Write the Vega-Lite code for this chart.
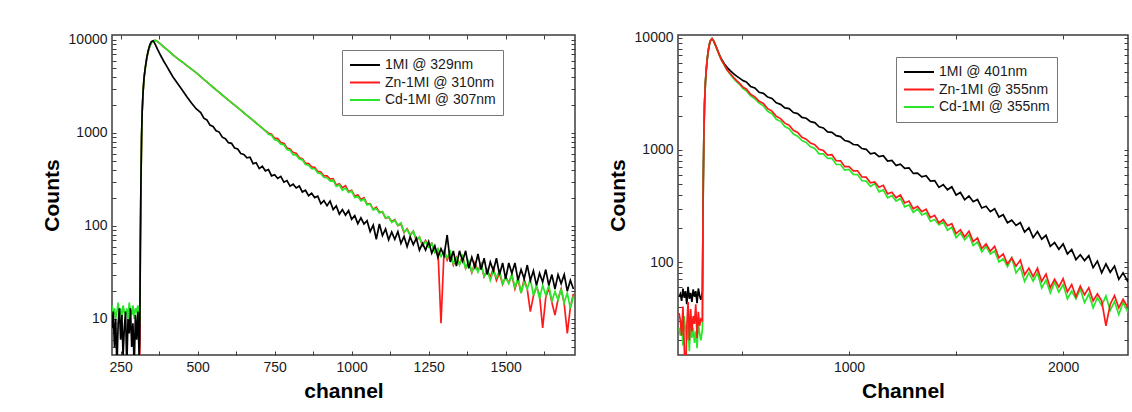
{
  "$schema": "https://vega.github.io/schema/vega-lite/v6.json",
  "padding": {"left": 40, "top": 30, "right": 0, "bottom": 0},
  "background": "white",
  "spacing": 29,
  "resolve": {"scale": {"color": "independent"}, "legend": {"color": "independent"}},
  "config": {
    "font": "Liberation Sans",
    "view": {"stroke": "#3c3c3c", "strokeWidth": 1.5},
    "axis": {"domain": false, "grid": false, "labelFontSize": 14, "labelColor": "#1a1a1a", "titleFontSize": 21, "titleFontWeight": "bold", "titleColor": "#000000", "tickColor": "#3c3c3c", "tickSize": -4, "tickWidth": 1, "labelPadding": 9, "labelOverlap": false, "labelFlush": false, "titlePadding": 6},
    "legend": {"labelFont": "Liberation Sans", "labelFontSize": 14, "labelColor": "#1a1a1a"}
  },
  "hconcat": [
    {
      "width": 463,
      "height": 320,
      "data": {"values": [
        {"x":222,"a":8,"b":1,"c":14},{"x":226,"a":12,"b":1,"c":11},{"x":230,"a":5,"b":1,"c":13},{"x":234,"a":10,"b":1,"c":10},{"x":238,"a":3,"b":1,"c":12},{"x":242,"a":9,"b":1,"c":15},{"x":246,"a":13,"b":1,"c":11},{"x":250,"a":6,"b":1,"c":13},{"x":254,"a":11,"b":1,"c":10},{"x":258,"a":4,"b":1,"c":14},{"x":262,"a":8,"b":1,"c":12},{"x":266,"a":12,"b":1,"c":11},{"x":270,"a":3,"b":1,"c":13},{"x":274,"a":10,"b":1,"c":10},{"x":278,"a":7,"b":1,"c":15},{"x":282,"a":13,"b":1,"c":12},{"x":286,"a":5,"b":1,"c":11},{"x":290,"a":9,"b":1,"c":14},{"x":294,"a":3,"b":1,"c":10},{"x":298,"a":11,"b":1,"c":13},{"x":302,"a":6,"b":1,"c":12},{"x":306,"a":12,"b":1,"c":14},{"x":310,"a":4,"b":1,"c":11},
        {"x":312,"a":6,"b":3,"c":9},{"x":314,"a":60,"b":60,"c":60},{"x":316,"a":300,"b":300,"c":300},{"x":318,"a":900,"b":900,"c":900},{"x":320,"a":1700,"b":1700,"c":1700},{"x":323,"a":2800,"b":2800,"c":2800},{"x":326,"a":3900,"b":3900,"c":3900},{"x":330,"a":5000,"b":5000,"c":5000},{"x":335,"a":6500,"b":6400,"c":6400},{"x":340,"a":7800,"b":7600,"c":7600},{"x":345,"a":8900,"b":8600,"c":8600},{"x":350,"a":9600,"b":9300,"c":9300},{"x":355,"a":9800,"b":9700,"c":9700},{"x":360,"a":9300,"b":9900,"c":9900},{"x":365,"a":8600,"b":9850,"c":9850},{"x":370,"a":7900,"b":9600,"c":9600},{"x":380,"a":6800,"b":9000,"c":9000},{"x":390,"a":5900,"b":8400,"c":8400},{"x":400,"a":5200,"b":7900,"c":7900},{"x":410,"a":4550,"b":7400,"c":7400},{"x":420,"a":4000,"b":6900,"c":6900},{"x":435,"a":3400,"b":6300,"c":6300},{"x":450,"a":2900,"b":5800,"c":5800},{"x":465,"a":2450,"b":5300,"c":5300},{"x":480,"a":2100,"b":4850,"c":4850},{"x":495,"a":1820,"b":4450,"c":4450},
        {"x":510,"a":1657,"b":4028,"c":4028},{"x":520,"a":1444,"b":3773,"c":3773},{"x":530,"a":1381,"b":3534,"c":3534},{"x":540,"a":1213,"b":3310,"c":3310},{"x":550,"a":1174,"b":3100,"c":3100},{"x":560,"a":1057,"b":2908,"c":2908},{"x":570,"a":1022,"b":2727,"c":2727},{"x":580,"a":900,"b":2558,"c":2558},{"x":590,"a":868,"b":2399,"c":2399},{"x":600,"a":786,"b":2250,"c":2250},
        {"x":610,"a":773,"b":2115,"c":2115},{"x":620,"a":688,"b":1988,"c":1988},{"x":630,"a":672,"b":1868,"c":1868},{"x":640,"a":600,"b":1756,"c":1756},{"x":650,"a":587,"b":1650,"c":1650},{"x":660,"a":541,"b":1548,"c":1548},{"x":670,"a":550,"b":1453,"c":1453},{"x":680,"a":467,"b":1363,"c":1363},{"x":690,"a":479,"b":1279,"c":1279},{"x":700,"a":414,"b":1200,"c":1200},
        {"x":710,"a":438,"b":1125,"c":1125},{"x":720,"a":391,"b":1055,"c":1055},{"x":730,"a":404,"b":994,"c":968},{"x":740,"a":346,"b":970,"c":945},{"x":750,"a":356,"b":878,"c":844},{"x":760,"a":324,"b":869,"c":828},{"x":770,"a":341,"b":790,"c":757},{"x":780,"a":296,"b":773,"c":746},{"x":790,"a":308,"b":688,"c":664},{"x":800,"a":268,"b":672,"c":650},
        {"x":810,"a":281,"b":615,"c":584},{"x":820,"a":256,"b":606,"c":578},{"x":830,"a":269,"b":542,"c":526},{"x":840,"a":232,"b":529,"c":514},{"x":850,"a":242,"b":474,"c":457},{"x":860,"a":212,"b":469,"c":450},{"x":870,"a":225,"b":432,"c":414},{"x":880,"a":202,"b":428,"c":412},{"x":890,"a":209,"b":386,"c":372},{"x":900,"a":173,"b":380,"c":366},
        {"x":910,"a":187,"b":345,"c":332},{"x":920,"a":165,"b":346,"c":330},{"x":930,"a":185,"b":319,"c":305},{"x":940,"a":150,"b":322,"c":312},{"x":950,"a":164,"b":275,"c":267},{"x":960,"a":134,"b":284,"c":276},{"x":970,"a":150,"b":258,"c":242},{"x":980,"a":131,"b":271,"c":256},{"x":990,"a":146,"b":234,"c":229},{"x":1000,"a":118,"b":242,"c":237},
        {"x":1010,"a":129,"b":209,"c":202},{"x":1020,"a":106,"b":216,"c":207},{"x":1030,"a":122,"b":193,"c":186},{"x":1040,"a":105,"b":201,"c":195},{"x":1050,"a":114,"b":172,"c":168},{"x":1060,"a":87,"b":174,"c":172},{"x":1070,"a":102,"b":151,"c":149},{"x":1080,"a":72,"b":159,"c":154},{"x":1090,"a":105,"b":141,"c":138},{"x":1100,"a":79,"b":142,"c":143},
        {"x":1110,"a":93,"b":121,"c":122},{"x":1120,"a":71,"b":124,"c":126},{"x":1130,"a":86,"b":112,"c":109},{"x":1140,"a":72,"b":117,"c":115},{"x":1150,"a":87,"b":101,"c":102},{"x":1160,"a":65,"b":105,"c":108},{"x":1170,"a":77,"b":85,"c":86},{"x":1180,"a":60,"b":93,"c":92},{"x":1190,"a":76,"b":80,"c":79},{"x":1200,"a":63,"b":88,"c":88},
        {"x":1210,"a":74,"b":70,"c":71},{"x":1220,"a":55,"b":76,"c":76},{"x":1230,"a":65,"b":62,"c":62},{"x":1240,"a":55,"b":70,"c":68},{"x":1250,"a":68,"b":60,"c":59},{"x":1260,"a":51,"b":65,"c":65},{"x":1270,"a":61,"b":52,"c":52},{"x":1280,"a":46,"b":56,"c":57},{"x":1290,"a":57,"b":9,"c":47},{"x":1300,"a":48,"b":55,"c":54},
        {"x":1310,"a":80,"b":43,"c":45},{"x":1320,"a":41,"b":51,"c":53},{"x":1330,"a":54,"b":38,"c":39},{"x":1340,"a":37,"b":46,"c":45},{"x":1350,"a":54,"b":39,"c":38},{"x":1360,"a":42,"b":47,"c":47},{"x":1370,"a":54,"b":35,"c":35},{"x":1380,"a":35,"b":41,"c":42},{"x":1390,"a":46,"b":31.5,"c":32},{"x":1400,"a":36,"b":40,"c":38},
        {"x":1410,"a":50,"b":33,"c":32},{"x":1420,"a":34,"b":39,"c":39},{"x":1430,"a":45,"b":28.5,"c":29},{"x":1440,"a":30,"b":33.5,"c":34},{"x":1450,"a":41,"b":28,"c":26},{"x":1460,"a":33,"b":35,"c":33},{"x":1470,"a":45,"b":26,"c":28},{"x":1480,"a":30,"b":31,"c":33},{"x":1490,"a":40,"b":23.6,"c":24},{"x":1500,"a":27,"b":28.6,"c":28},
        {"x":1510,"a":40,"b":24.4,"c":24},{"x":1520,"a":31,"b":29.7,"c":30},{"x":1530,"a":40,"b":21,"c":22},{"x":1540,"a":26,"b":27,"c":28},{"x":1550,"a":34,"b":19,"c":19},{"x":1560,"a":27,"b":26.7,"c":25},{"x":1570,"a":38,"b":21,"c":21},{"x":1580,"a":26,"b":12,"c":27},{"x":1590,"a":33,"b":17.7,"c":18},{"x":1600,"a":23,"b":22.3,"c":23},
        {"x":1610,"a":31,"b":18,"c":16.5},{"x":1620,"a":25,"b":8,"c":23},{"x":1630,"a":34,"b":17,"c":18},{"x":1640,"a":23,"b":21.7,"c":23},{"x":1650,"a":30,"b":15,"c":15.6},{"x":1660,"a":21,"b":11,"c":19.7},{"x":1670,"a":30,"b":16.4,"c":16},{"x":1680,"a":24,"b":21,"c":21},{"x":1690,"a":30,"b":14.6,"c":15},{"x":1700,"a":20,"b":7,"c":19},
        {"x":1710,"a":26,"b":13.4,"c":13},{"x":1720,"a":21,"b":18.7,"c":17.7}
      ]},
      "transform": [{"fold": ["b", "c", "a"], "as": ["s", "v"]}],
      "layer": [
        {
          "mark": {"type": "line", "clip": true, "strokeWidth": 1.7},
          "encoding": {
            "x": {"field": "x", "type": "quantitative", "scale": {"domain": [222, 1725], "nice": false, "zero": false},
                  "axis": {"orient": "bottom", "title": "channel", "format": "d", "values": [250,375,500,625,750,875,1000,1125,1250,1375,1500,1625], "labelExpr": "datum.value % 250 == 0 ? datum.label : ''"}},
            "y": {"field": "v", "type": "quantitative", "scale": {"type": "log", "domain": [4.1, 11300], "nice": false},
                  "axis": {"orient": "left", "title": "Counts", "format": "d", "values": [5,6,7,8,9,10,20,30,40,50,60,70,80,90,100,200,300,400,500,600,700,800,900,1000,2000,3000,4000,5000,6000,7000,8000,9000,10000], "labelExpr": "indexof([10,100,1000,10000], datum.value) >= 0 ? datum.label : ''"}},
            "color": {"field": "s", "type": "nominal", "scale": {"domain": ["a", "b", "c"], "range": ["#000000", "#ff1a1a", "#2ae62a"]},
                      "legend": {"orient": "none", "legendX": 230, "legendY": 15, "title": null, "symbolType": "stroke", "symbolSize": 900, "symbolStrokeWidth": 2, "labelOffset": 4, "strokeColor": "#777777", "fillColor": "#ffffff", "padding": 7, "clipHeight": 16, "rowPadding": 1.5,
                                 "labelExpr": "datum.label == 'a' ? '1MI @ 329nm' : datum.label == 'b' ? 'Zn-1MI @ 310nm' : 'Cd-1MI @ 307nm'"}}
          }
        },
        {
          "mark": {"type": "point", "opacity": 0},
          "encoding": {
            "x": {"field": "x", "type": "quantitative", "axis": {"orient": "top", "title": null, "labels": false, "values": [250,375,500,625,750,875,1000,1125,1250,1375,1500,1625]}},
            "y": {"field": "v", "type": "quantitative", "axis": {"orient": "right", "title": null, "labels": false, "values": [5,6,7,8,9,10,20,30,40,50,60,70,80,90,100,200,300,400,500,600,700,800,900,1000,2000,3000,4000,5000,6000,7000,8000,9000,10000]}}
          }
        }
      ],
      "resolve": {"axis": {"x": "independent", "y": "independent"}}
    },
    {
      "width": 450,
      "height": 320,
      "data": {"values": [
        {"x":206,"a":49,"b":35,"c":26},{"x":212,"a":52,"b":30,"c":22},{"x":218,"a":45,"b":22,"c":30},{"x":224,"a":58,"b":40,"c":18},{"x":230,"a":48,"b":18,"c":33},{"x":236,"a":55,"b":8,"c":25},{"x":242,"a":42,"b":26,"c":20},{"x":248,"a":60,"b":44,"c":28},{"x":254,"a":47,"b":20,"c":16},{"x":260,"a":53,"b":38,"c":30},{"x":266,"a":44,"b":24,"c":21},{"x":272,"a":57,"b":33,"c":26},{"x":278,"a":49,"b":28,"c":19},{"x":284,"a":55,"b":42,"c":24},{"x":290,"a":43,"b":21,"c":17},{"x":296,"a":58,"b":36,"c":29},{"x":302,"a":50,"b":27,"c":23},{"x":308,"a":46,"b":31,"c":20},
        {"x":315,"a":55,"b":30,"c":25},{"x":317,"a":150,"b":150,"c":150},{"x":319,"a":500,"b":500,"c":500},{"x":322,"a":1400,"b":1400,"c":1400},{"x":325,"a":2600,"b":2600,"c":2600},{"x":329,"a":4000,"b":4000,"c":4000},{"x":333,"a":5200,"b":5200,"c":5200},{"x":338,"a":6600,"b":6600,"c":6600},{"x":343,"a":7800,"b":7800,"c":7800},{"x":348,"a":8800,"b":8800,"c":8800},{"x":353,"a":9500,"b":9500,"c":9500},{"x":360,"a":9800,"b":9850,"c":9850},{"x":367,"a":9400,"b":9450,"c":9450},{"x":375,"a":8700,"b":8700,"c":8700},{"x":385,"a":7800,"b":7800,"c":7750},{"x":395,"a":7000,"b":6950,"c":6900},{"x":405,"a":6400,"b":6300,"c":6250},{"x":418,"a":5850,"b":5700,"c":5650},{"x":430,"a":5450,"b":5200,"c":5150},{"x":445,"a":5100,"b":4800,"c":4700},{"x":460,"a":4800,"b":4450,"c":4350},{"x":475,"a":4550,"b":4150,"c":4050},{"x":490,"a":4350,"b":3900,"c":3820},{"x":505,"a":4150,"b":3620,"c":3520},
        {"x":520,"a":4044,"b":3496,"c":3371},{"x":540,"a":3684,"b":3131,"c":3030},{"x":560,"a":3569,"b":2977,"c":2864},{"x":580,"a":3270,"b":2714,"c":2611},{"x":600,"a":3194,"b":2601,"c":2471},{"x":620,"a":2959,"b":2332,"c":2211},{"x":640,"a":2877,"b":2220,"c":2105},{"x":660,"a":2628,"b":1994,"c":1875},{"x":680,"a":2549,"b":1902,"c":1799},{"x":700,"a":2371,"b":1733,"c":1615},
        {"x":720,"a":2337,"b":1664,"c":1544},{"x":740,"a":2155,"b":1496,"c":1388},{"x":760,"a":2111,"b":1431,"c":1326},{"x":780,"a":1951,"b":1294,"c":1213},{"x":800,"a":1915,"b":1247,"c":1167},{"x":820,"a":1789,"b":1152,"c":1065},{"x":840,"a":1753,"b":1115,"c":1030},{"x":860,"a":1610,"b":1014,"c":922},{"x":880,"a":1572,"b":987,"c":921},{"x":900,"a":1450,"b":898,"c":839},
        {"x":920,"a":1434,"b":906,"c":842},{"x":940,"a":1341,"b":802,"c":743},{"x":960,"a":1315,"b":800,"c":741},{"x":980,"a":1213,"b":709,"c":660},{"x":1000,"a":1187,"b":711,"c":669},{"x":1020,"a":1118,"b":649,"c":606},{"x":1040,"a":1109,"b":651,"c":603},{"x":1060,"a":1028,"b":573,"c":531},{"x":1080,"a":1013,"b":571,"c":527},{"x":1100,"a":922,"b":509,"c":472},
        {"x":1120,"a":938,"b":518,"c":502},{"x":1140,"a":870,"b":465,"c":423},{"x":1160,"a":888,"b":483,"c":440},{"x":1180,"a":795,"b":405,"c":374},{"x":1200,"a":806,"b":419,"c":392},{"x":1220,"a":727,"b":374,"c":350},{"x":1240,"a":746,"b":397,"c":369},{"x":1260,"a":685,"b":336,"c":310},{"x":1280,"a":692,"b":350,"c":323},{"x":1300,"a":617,"b":298,"c":277},
        {"x":1320,"a":621,"b":314,"c":298},{"x":1340,"a":575,"b":281,"c":263},{"x":1360,"a":588,"b":296,"c":274},{"x":1380,"a":527,"b":249,"c":230},{"x":1400,"a":532,"b":261,"c":239},{"x":1420,"a":463,"b":223,"c":214},{"x":1440,"a":490,"b":239,"c":227},{"x":1460,"a":441,"b":211,"c":192},{"x":1480,"a":469,"b":220,"c":205},{"x":1500,"a":396,"b":179,"c":165},
        {"x":1520,"a":417,"b":194,"c":182},{"x":1540,"a":359,"b":168,"c":158},{"x":1560,"a":388,"b":188,"c":175},{"x":1580,"a":345,"b":152,"c":140},{"x":1600,"a":361,"b":164,"c":151},{"x":1620,"a":303,"b":132,"c":123},{"x":1640,"a":314,"b":145,"c":138},{"x":1660,"a":281,"b":125,"c":118},{"x":1680,"a":299,"b":138,"c":126},{"x":1700,"a":252,"b":109,"c":100},
        {"x":1720,"a":264,"b":118,"c":107},{"x":1740,"a":224,"b":96,"c":91},{"x":1760,"a":236,"b":109,"c":109},{"x":1780,"a":212,"b":92,"c":80},{"x":1800,"a":225,"b":104,"c":90},{"x":1820,"a":185,"b":77,"c":67},{"x":1840,"a":202,"b":88,"c":80},{"x":1860,"a":165,"b":74,"c":67.5},{"x":1880,"a":187,"b":88,"c":80},{"x":1900,"a":160,"b":67,"c":58.6},
        {"x":1920,"a":173,"b":78,"c":69},{"x":1940,"a":138,"b":59,"c":53},{"x":1960,"a":149,"b":70,"c":66},{"x":1980,"a":130,"b":60,"c":54},{"x":2000,"a":145,"b":71,"c":63},{"x":2020,"a":118,"b":54,"c":47},{"x":2040,"a":129,"b":63,"c":55},{"x":2060,"a":105,"b":49,"c":47},{"x":2080,"a":116,"b":61,"c":57.5},{"x":2100,"a":103,"b":51,"c":43.5},
        {"x":2120,"a":114,"b":59,"c":51.7},{"x":2140,"a":89,"b":45,"c":39},{"x":2160,"a":102,"b":52,"c":48},{"x":2180,"a":80,"b":45,"c":41},{"x":2200,"a":96,"b":27,"c":49.7},{"x":2220,"a":81,"b":42,"c":37},{"x":2240,"a":92,"b":50,"c":44.5},{"x":2260,"a":70,"b":39,"c":34},{"x":2280,"a":80,"b":46.5,"c":43.8},{"x":2300,"a":68,"b":40,"c":36.4},{"x":2320,"a":81,"b":48,"c":43}
      ]},
      "transform": [{"fold": ["a", "c", "b"], "as": ["s", "v"]}],
      "layer": [
        {
          "mark": {"type": "line", "clip": true, "strokeWidth": 1.7},
          "encoding": {
            "x": {"field": "x", "type": "quantitative", "scale": {"domain": [201, 2303], "nice": false, "zero": false},
                  "axis": {"orient": "bottom", "title": "Channel", "format": "d", "values": [500,1000,1500,2000], "labelExpr": "datum.value % 1000 == 0 ? datum.label : ''"}},
            "y": {"field": "v", "type": "quantitative", "scale": {"type": "log", "domain": [14.8, 10600], "nice": false},
                  "axis": {"orient": "left", "title": "Counts", "format": "d", "values": [20,30,40,50,60,70,80,90,100,200,300,400,500,600,700,800,900,1000,2000,3000,4000,5000,6000,7000,8000,9000,10000], "labelExpr": "indexof([100,1000,10000], datum.value) >= 0 ? datum.label : ''"}},
            "color": {"field": "s", "type": "nominal", "scale": {"domain": ["a", "b", "c"], "range": ["#000000", "#ff1a1a", "#2ae62a"]},
                      "legend": {"orient": "none", "legendX": 218, "legendY": 22, "title": null, "symbolType": "stroke", "symbolSize": 900, "symbolStrokeWidth": 2, "labelOffset": 4, "strokeColor": "#777777", "fillColor": "#ffffff", "padding": 7, "clipHeight": 16, "rowPadding": 1.5,
                                 "labelExpr": "datum.label == 'a' ? '1MI @ 401nm' : datum.label == 'b' ? 'Zn-1MI @ 355nm' : 'Cd-1MI @ 355nm'"}}
          }
        },
        {
          "mark": {"type": "point", "opacity": 0},
          "encoding": {
            "x": {"field": "x", "type": "quantitative", "axis": {"orient": "top", "title": null, "labels": false, "values": [500,1000,1500,2000]}},
            "y": {"field": "v", "type": "quantitative", "axis": {"orient": "right", "title": null, "labels": false, "values": [20,30,40,50,60,70,80,90,100,200,300,400,500,600,700,800,900,1000,2000,3000,4000,5000,6000,7000,8000,9000,10000]}}
          }
        }
      ],
      "resolve": {"axis": {"x": "independent", "y": "independent"}}
    }
  ]
}
